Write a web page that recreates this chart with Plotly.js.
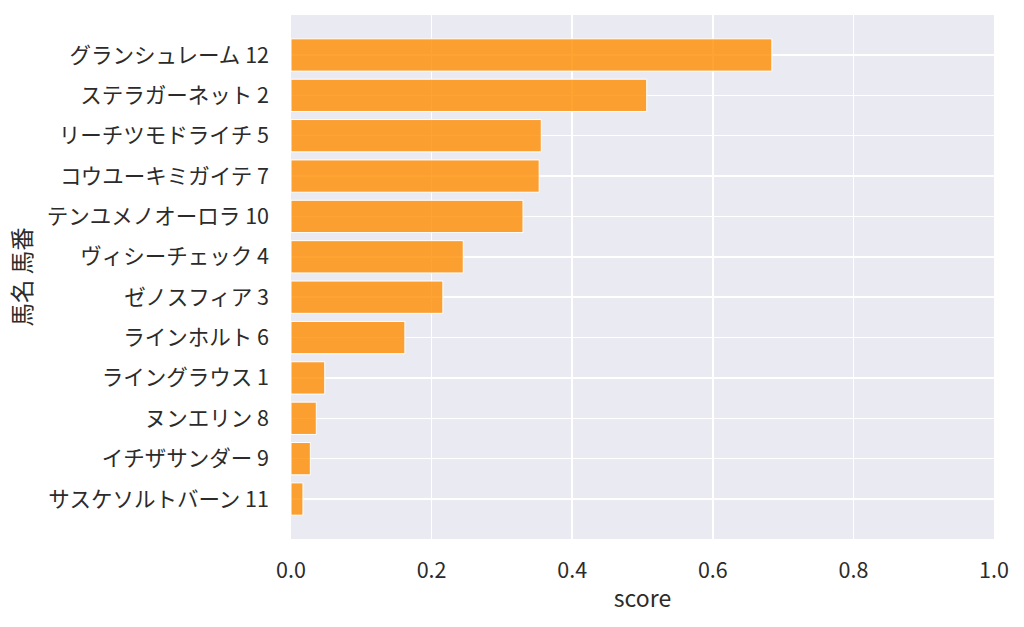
<!DOCTYPE html>
<html>
<head>
<meta charset="utf-8">
<script src="https://cdn.plot.ly/plotly-3.0.1.min.js"></script>
<style>
  html, body { margin: 0; padding: 0; background: #ffffff; }
  #chart { width: 1024px; height: 627px; }
</style>
</head>
<body>
<div id="chart"></div>
<script>
// horse name + number, top to bottom
var horses = [
  "グランシュレーム 12", "ステラガーネット 2", "リーチツモドライチ 5", "コウユーキミガイテ 7",
  "テンユメノオーロラ 10", "ヴィシーチェック 4", "ゼノスフィア 3", "ラインホルト 6",
  "ライングラウス 1", "ヌンエリン 8", "イチザサンダー 9", "サスケソルトバーン 11"
];
var scores = [0.684, 0.506, 0.356, 0.353, 0.330, 0.245, 0.216, 0.162, 0.048, 0.036, 0.0275, 0.017];
var xTicks = [0, 0.2, 0.4, 0.6, 0.8, 1.0];
var xTickText = ["0.0", "0.2", "0.4", "0.6", "0.8", "1.0"];

var font = '"Noto Sans CJK JP", "Noto Sans", sans-serif';

var trace = {
  type: 'bar',
  orientation: 'h',
  x: scores,
  y: horses,
  width: 0.8,
  marker: {
    color: 'rgba(255,140,0,0.8)',
    line: { color: '#ffffff', width: 1 }
  },
  hoverinfo: 'x+y'
};

var layout = {
  width: 1024,
  height: 627,
  margin: { l: 291, r: 30, t: 15, b: 88 },
  paper_bgcolor: '#ffffff',
  plot_bgcolor: '#eaeaf2',
  font: { family: font, size: 21.5, color: '#2b2b2b' },
  showlegend: false,
  bargap: 0.2,
  xaxis: {
    range: [0, 1],
    tickvals: xTicks,
    ticktext: xTickText,
    showgrid: true,
    gridcolor: '#ffffff',
    gridwidth: 1.5,
    zeroline: false,
    showline: false,
    ticks: '',
    ticklabelstandoff: 16,
    tickfont: { size: 21.5 },
    title: { text: 'score', font: { size: 23 }, standoff: 8 }
  },
  yaxis: {
    type: 'category',
    range: [11.99, -0.99],
    showgrid: true,
    gridcolor: '#ffffff',
    gridwidth: 1.5,
    zeroline: false,
    showline: false,
    ticks: '',
    ticklabelstandoff: 21,
    tickfont: { size: 21.5 },
    title: { text: '馬名 馬番', font: { size: 23.5 }, standoff: 8 }
  }
};

Plotly.newPlot('chart', [trace], layout, { displayModeBar: false, staticPlot: true });
</script>
</body>
</html>
